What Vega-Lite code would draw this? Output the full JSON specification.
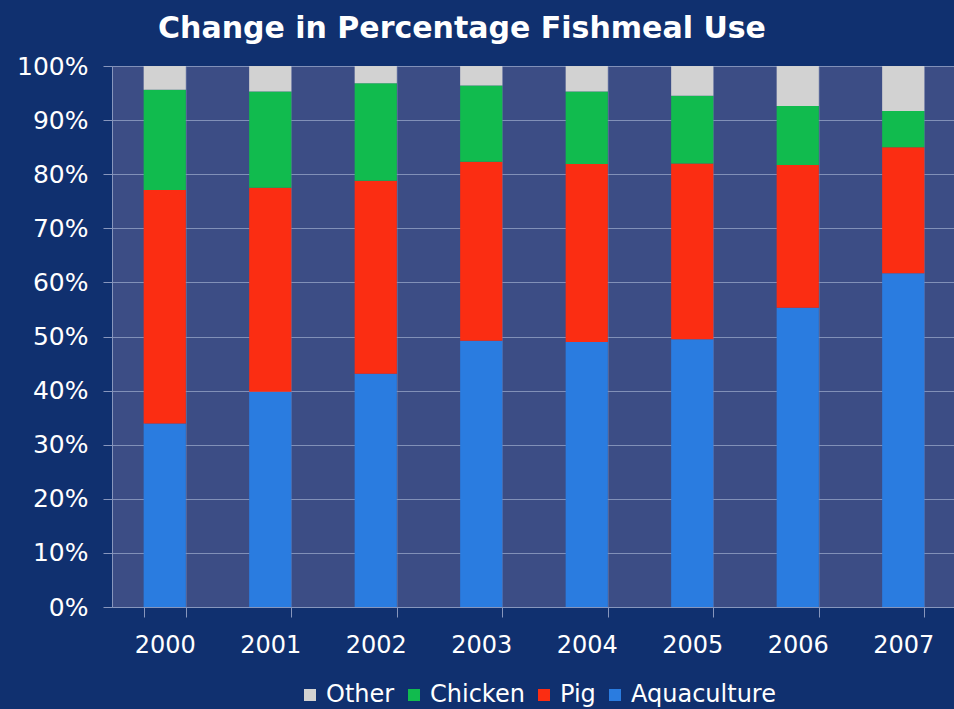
{
  "$schema": "https://vega.github.io/schema/vega-lite/v6.json",
  "autosize": "none",
  "width": 844,
  "height": 541,
  "padding": {"left": 112, "top": 66, "right": 0, "bottom": 102},
  "background": "#10306f",
  "title": {
    "text": "Change in Percentage Fishmeal Use",
    "font": "DejaVu Sans",
    "fontSize": 30,
    "fontWeight": "bold",
    "color": "white",
    "anchor": "middle",
    "dx": -72,
    "offset": 10
  },
  "data": {
    "values": [
      {"year": "2000", "category": "Aquaculture", "value": 33.9},
      {"year": "2000", "category": "Pig", "value": 43.2},
      {"year": "2000", "category": "Chicken", "value": 18.5},
      {"year": "2000", "category": "Other", "value": 4.4},
      {"year": "2001", "category": "Aquaculture", "value": 39.8},
      {"year": "2001", "category": "Pig", "value": 37.7},
      {"year": "2001", "category": "Chicken", "value": 17.8},
      {"year": "2001", "category": "Other", "value": 4.7},
      {"year": "2002", "category": "Aquaculture", "value": 43.1},
      {"year": "2002", "category": "Pig", "value": 35.7},
      {"year": "2002", "category": "Chicken", "value": 18.0},
      {"year": "2002", "category": "Other", "value": 3.2},
      {"year": "2003", "category": "Aquaculture", "value": 49.2},
      {"year": "2003", "category": "Pig", "value": 33.1},
      {"year": "2003", "category": "Chicken", "value": 14.1},
      {"year": "2003", "category": "Other", "value": 3.6},
      {"year": "2004", "category": "Aquaculture", "value": 49.0},
      {"year": "2004", "category": "Pig", "value": 32.9},
      {"year": "2004", "category": "Chicken", "value": 13.4},
      {"year": "2004", "category": "Other", "value": 4.7},
      {"year": "2005", "category": "Aquaculture", "value": 49.5},
      {"year": "2005", "category": "Pig", "value": 32.5},
      {"year": "2005", "category": "Chicken", "value": 12.5},
      {"year": "2005", "category": "Other", "value": 5.5},
      {"year": "2006", "category": "Aquaculture", "value": 55.3},
      {"year": "2006", "category": "Pig", "value": 26.4},
      {"year": "2006", "category": "Chicken", "value": 10.9},
      {"year": "2006", "category": "Other", "value": 7.4},
      {"year": "2007", "category": "Aquaculture", "value": 61.7},
      {"year": "2007", "category": "Pig", "value": 23.3},
      {"year": "2007", "category": "Chicken", "value": 6.7},
      {"year": "2007", "category": "Other", "value": 8.3}
    ]
  },
  "transform": [
    {"calculate": "indexof(['Aquaculture', 'Pig', 'Chicken', 'Other'], datum.category)", "as": "stackOrder"}
  ],
  "mark": {"type": "bar"},
  "encoding": {
    "x": {
      "field": "year",
      "type": "nominal",
      "scale": {"paddingInner": 0.6, "paddingOuter": 0.3},
      "axis": {
        "title": null,
        "labelAngle": 0,
        "labelFont": "DejaVu Sans",
        "labelFontSize": 24,
        "labelColor": "white",
        "labelPadding": 16,
        "tickBand": "extent",
        "tickSize": 10,
        "tickColor": "#8796bd",
        "domainColor": "#8796bd",
        "grid": true,
        "gridColor": "#566598",
        "gridWidth": 1
      }
    },
    "y": {
      "field": "value",
      "type": "quantitative",
      "stack": "normalize",
      "scale": {"domain": [0, 1], "nice": false},
      "axis": {
        "title": null,
        "format": ".0%",
        "values": [0, 0.1, 0.2, 0.3, 0.4, 0.5, 0.6, 0.7, 0.8, 0.9, 1],
        "labelFont": "DejaVu Sans",
        "labelFontSize": 25,
        "labelColor": "white",
        "labelPadding": 15,
        "tickSize": 9,
        "tickColor": "#8796bd",
        "domainColor": "#8796bd",
        "grid": true,
        "gridColor": "#8190b8",
        "gridWidth": 1
      }
    },
    "order": {"field": "stackOrder", "type": "quantitative", "sort": "ascending"},
    "color": {
      "field": "category",
      "type": "nominal",
      "scale": {
        "domain": ["Aquaculture", "Pig", "Chicken", "Other"],
        "range": ["#2a7ce0", "#fb2d12", "#11bb4e", "#d2d2d2"]
      },
      "legend": {
        "title": null,
        "values": ["Other", "Chicken", "Pig", "Aquaculture"],
        "orient": "none",
        "direction": "horizontal",
        "legendX": 186,
        "legendY": 617,
        "symbolType": "square",
        "symbolSize": 144,
        "symbolStrokeWidth": 0,
        "labelFont": "DejaVu Sans",
        "labelFontSize": 24,
        "labelColor": "white",
        "labelOffset": 4,
        "columnPadding": 7
      }
    }
  },
  "config": {
    "view": {"fill": "#3c4d85", "stroke": null}
  }
}
